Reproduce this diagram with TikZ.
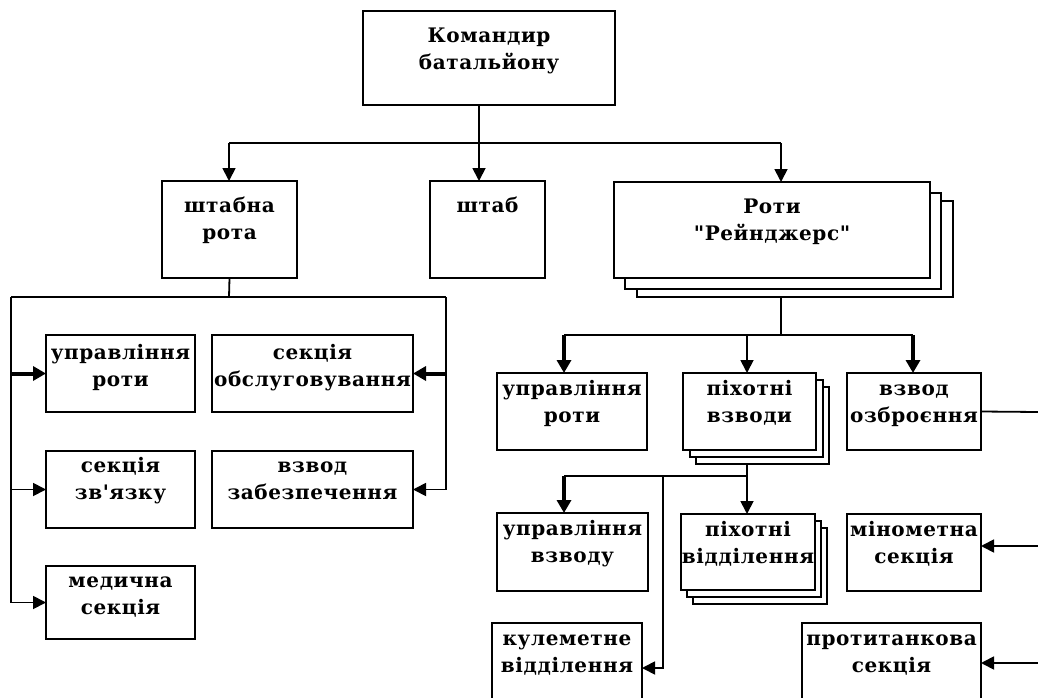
\documentclass[tikz,border=0pt]{standalone}
\usepackage{fontspec}
\newfontfamily\boxfont{DejaVu Serif}[LetterSpace=3]
\usetikzlibrary{arrows.meta,backgrounds}
\tikzset{
  obox/.style={draw, line width=1.9pt, fill=white, inner sep=0pt, outer sep=0pt,
    font=\boxfont\bfseries\fontsize{20}{27}\selectfont},
  link/.style={line width=1.8pt},
  arr/.style={line width=1.8pt, -{Triangle[length=13pt,width=13pt]}},
  tarr/.style={line width=4pt, -{Triangle[length=13pt,width=14pt]}},
  shad/.style={draw, line width=1.9pt, fill=white},
}
\newcommand\orgbox[7]{%
  \node[obox, anchor=north west] (#1) at (#2,#3)
    {\parbox[c][#5pt][t]{#4pt}{\vspace*{#6pt}\makebox[#4pt][c]{\begin{tabular}[t]{@{}c@{}}#7\end{tabular}}}};}
\begin{document}
\begin{tikzpicture}[x=1pt,y=-1pt]
\useasboundingbox (0,0) rectangle (1038,698);
\clip (0,0) rectangle (1038,698);
% boxes
\orgbox{kb}{363}{11}{252}{94}{13}{Командир\\батальйону}
\orgbox{shr}{162}{181}{135}{97}{13}{штабна\\рота}
\orgbox{shtab}{430}{181}{115}{97}{13}{штаб}
\orgbox{rang}{614}{182}{316}{96}{13}{Роти\\"Рейнджерс"}
\orgbox{uprA}{46}{335}{149}{77}{6}{управління\\роти}
\orgbox{sobs}{212}{335}{201}{77}{6}{секція\\обслуговування}
\orgbox{szv}{46}{451}{149}{77}{3}{секція\\зв'язку}
\orgbox{vzab}{212}{451}{201}{77}{3}{взвод\\забезпечення}
\orgbox{med}{46}{566}{149}{73}{3}{медична\\секція}
\orgbox{uprB}{497}{373}{150}{77}{4}{управління\\роти}
\orgbox{pvz}{683}{373}{133}{77}{4}{піхотні\\взводи}
\orgbox{vozb}{847}{373}{134}{77}{4}{взвод\\озброєння}
\orgbox{uprv}{497}{513}{151}{78}{4}{управління\\взводу}
\orgbox{pvid}{681}{514}{134}{76}{4}{піхотні\\відділення}
\orgbox{mino}{847}{514}{134}{77}{4}{мінометна\\секція}
\orgbox{kul}{492}{623}{150}{90}{4}{кулеметне\\відділення}
\orgbox{prot}{802}{623}{179}{90}{4}{протитанкова\\секція}
% junction coordinates
\coordinate (t1) at (479,143);
\coordinate (b1) at (229,143);
\coordinate (b3) at (781,143);
\coordinate (l0) at (229,297);
\coordinate (lL) at (11,297);
\coordinate (lR) at (446,297);
\coordinate (r0) at (781,335);
\coordinate (rL) at (564,335);
\coordinate (rM) at (747,335);
\coordinate (rR) at (913,335);
\coordinate (s0) at (747,476);
\coordinate (sL) at (564,476);
\coordinate (sK) at (663,476);
\coordinate (e1) at (1038,412);
\coordinate (e2) at (1038,546);
\coordinate (e3) at (1038,663);
% background: white page, hidden line parts, stacked copies
\begin{pgfonlayer}{background}
\fill[white] (0,0) rectangle (1038,698);
\draw[link] (r0 |- rang.south) -- (r0);
\draw[link] (s0 |- pvz.south) -- (s0);
\draw[shad] ([shift={(23,19)}]rang.north west) rectangle ([shift={(23,19)}]rang.south east);
\draw[shad] ([shift={(11,11)}]rang.north west) rectangle ([shift={(11,11)}]rang.south east);
\draw[shad] ([shift={(13,14)}]pvz.north west) rectangle ([shift={(13,14)}]pvz.south east);
\draw[shad] ([shift={(7,7)}]pvz.north west) rectangle ([shift={(7,7)}]pvz.south east);
\draw[shad] ([shift={(12,14)}]pvid.north west) rectangle ([shift={(12,14)}]pvid.south east);
\draw[shad] ([shift={(6,7)}]pvid.north west) rectangle ([shift={(6,7)}]pvid.south east);
\end{pgfonlayer}
% top level
\draw[link] (kb.south -| t1) -- (t1);
\draw[link] (b1) -- (b3);
\draw[arr] (b1) -- (b1 |- shr.north);
\draw[arr] (t1) -- (t1 |- shtab.north);
\draw[arr] (b3) -- (b3 |- rang.north);
% left branch
\draw[link] (shr.south) -- (l0);
\draw[link] (lL) -- (lR);
\draw[link] (lL) -- (lL |- med.west);
\draw[link] (lR) -- (lR |- vzab.east);
\draw[tarr] (lL |- uprA.west) -- (uprA.west);
\draw[arr] (lL |- szv.west) -- (szv.west);
\draw[arr] (lL |- med.west) -- (med.west);
\draw[tarr] (lR |- sobs.east) -- (sobs.east);
\draw[arr] (lR |- vzab.east) -- (vzab.east);
% right branch
\draw[link] (rL) -- (rR);
\draw[tarr] (rL) -- (rL |- uprB.north);
\draw[arr] (rM) -- (rM |- pvz.north);
\draw[tarr] (rR) -- (rR |- vozb.north);
\draw[link] (vozb.east) -- (e1);
\draw[link] (sL) -- (s0);
\draw[tarr] (sL) -- (sL |- uprv.north);
\draw[arr] (s0) -- (s0 |- pvid.north);
\draw[arr] (sK) |- (kul.east);
\draw[arr] (e2) -- (e2 -| mino.east);
\draw[arr] (e3) -- (e3 -| prot.east);
\end{tikzpicture}
\end{document}
